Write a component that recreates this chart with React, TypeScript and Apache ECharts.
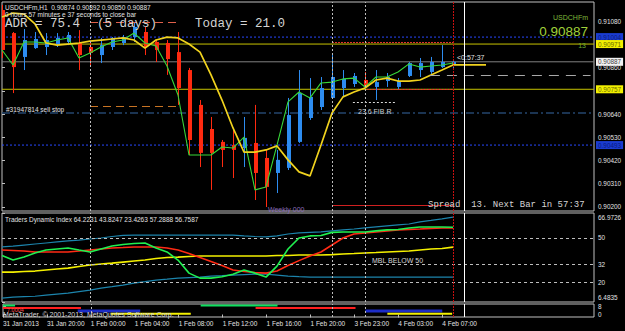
import React, { useEffect, useRef } from 'react';
import * as echarts from 'echarts';

// ---------- data ----------
const SYMBOL = 'USDCHFm';
const TIMEFRAME = 'H1';
const TIME_LABELS = ['31 Jan 2013', '31 Jan 20:00', '1 Feb 00:00', '1 Feb 04:00', '1 Feb 08:00', '1 Feb 12:00', '1 Feb 16:00', '1 Feb 20:00', '3 Feb 23:00', '4 Feb 03:00', '4 Feb 07:00'];
const LABEL_EVERY = 4;

const OPEN = [0.91132, 0.91023, 0.90910, 0.90952, 0.90957, 0.90971, 0.90981, 0.90976, 0.90957, 0.90919, 0.90957, 0.90976, 0.91004, 0.91028, 0.90981, 0.90976, 0.90933, 0.90848, 0.90683, 0.90569, 0.90508, 0.90493, 0.90479, 0.90503, 0.90432, 0.90361, 0.90385, 0.90508, 0.90621, 0.90673, 0.90716, 0.90763, 0.90782, 0.90801, 0.90768, 0.90796, 0.90768, 0.90820, 0.90848, 0.90839, 0.90862, 0.90874];
const HIGH = [0.91156, 0.91028, 0.91042, 0.91028, 0.91023, 0.91023, 0.91028, 0.91037, 0.90981, 0.91000, 0.91004, 0.91014, 0.91071, 0.91052, 0.90990, 0.90990, 0.91028, 0.90858, 0.90706, 0.90626, 0.90517, 0.90564, 0.90626, 0.90683, 0.90470, 0.90470, 0.90716, 0.90848, 0.90810, 0.90815, 0.90919, 0.90848, 0.90834, 0.90839, 0.90848, 0.90834, 0.90810, 0.90886, 0.90905, 0.90910, 0.90966, 0.90892];
const LOW = [0.90905, 0.90739, 0.90848, 0.90948, 0.90919, 0.90957, 0.90966, 0.90848, 0.90872, 0.90881, 0.90943, 0.90966, 0.90981, 0.90919, 0.90886, 0.90825, 0.90683, 0.90446, 0.90389, 0.90281, 0.90389, 0.90337, 0.90389, 0.90233, 0.90200, 0.90266, 0.90375, 0.90503, 0.90612, 0.90659, 0.90711, 0.90721, 0.90768, 0.90763, 0.90706, 0.90768, 0.90758, 0.90815, 0.90815, 0.90825, 0.90858, 0.90850];
const CLOSE = [0.90943, 0.90862, 0.90990, 0.90995, 0.90990, 0.91000, 0.91014, 0.90919, 0.90929, 0.90966, 0.91000, 0.91004, 0.91052, 0.90957, 0.90943, 0.90900, 0.90763, 0.90517, 0.90456, 0.90456, 0.90470, 0.90470, 0.90527, 0.90361, 0.90295, 0.90423, 0.90635, 0.90739, 0.90721, 0.90763, 0.90815, 0.90806, 0.90820, 0.90768, 0.90791, 0.90815, 0.90796, 0.90881, 0.90881, 0.90886, 0.90886, 0.90887];

const GREEN_MA = [0.90943, 0.90872, 0.90981, 0.90981, 0.90976, 0.90990, 0.91000, 0.90905, 0.90929, 0.90957, 0.90981, 0.90990, 0.91023, 0.90976, 0.90962, 0.90867, 0.90730, 0.90446, 0.90446, 0.90446, 0.90484, 0.90479, 0.90531, 0.90281, 0.90295, 0.90493, 0.90697, 0.90744, 0.90716, 0.90787, 0.90791, 0.90806, 0.90810, 0.90768, 0.90815, 0.90815, 0.90839, 0.90877, 0.90862, 0.90867, 0.90872, 0.90881];
const YELLOW_CURVE = [0.91099, 0.91118, 0.91113, 0.91066, 0.90976, 0.90966, 0.90971, 0.90976, 0.90985, 0.90990, 0.90995, 0.91000, 0.90990, 0.90952, 0.90990, 0.91004, 0.91000, 0.90971, 0.90933, 0.90825, 0.90706, 0.90574, 0.90460, 0.90460, 0.90470, 0.90489, 0.90423, 0.90366, 0.90347, 0.90493, 0.90645, 0.90721, 0.90744, 0.90763, 0.90801, 0.90810, 0.90796, 0.90796, 0.90801, 0.90825, 0.90848, 0.90872, 0.90872, 0.90872, 0.90872];

const PRICE_MIN = 0.90181;
const PRICE_MAX = 0.91170;
const PRICE_TICKS = [0.902, 0.9031, 0.9042, 0.9053, 0.9064, 0.9075, 0.9086, 0.9097, 0.9108];

const BLUE_DOT_LEVELS = [0.91004, 0.90493];
const YELLOW_LEVELS = [0.90971, 0.90757];
const SELL_STOP_LEVEL = 0.90645;
const ORANGE_ORDER = [8, 16, 0.90678];
const SALMON_ORDER = [8, 16, 0.91075];
const DAILY_RED = [[30, 41, 0.90981], [33, 41, 0.90757]];
const WEEKLY_RED = [30, 41, 0.90210];
const GREY_DASH = [38.9, 53.5, 0.90825];
const FIB_LINE = [31.9, 35.9, 0.90697];

const TDI_MIN = 6.4835;
const TDI_MAX = 66.9726;
const TDI_TICKS = [6.4835, 20, 32, 50, 66.9726];
const TDI_LEVELS = [20, 32, 50];
const TDI_UPPER = [43.9, 44.5, 45.2, 45.9, 46.6, 47.3, 48.0, 48.6, 49.3, 50.0, 51.0, 51.7, 52.0, 52.0, 52.0, 52.0, 52.0, 52.0, 52.0, 52.0, 52.0, 52.0, 51.4, 51.0, 50.7, 51.4, 52.7, 53.4, 53.8, 54.1, 54.8, 55.5, 56.1, 56.8, 57.5, 58.2, 58.9, 59.5, 60.9, 61.9, 63.0, 64.2];
const TDI_LOWER = [9.1, 9.8, 10.1, 10.4, 11.1, 11.8, 12.5, 13.5, 14.5, 15.9, 16.9, 18.0, 19.3, 20.3, 21.4, 22.0, 22.7, 23.1, 23.4, 24.1, 24.4, 24.8, 25.1, 25.4, 25.4, 24.8, 24.1, 23.7, 23.4, 23.4, 23.4, 23.4, 23.4, 23.4, 23.4, 23.4, 23.4, 23.4, 23.4, 23.4, 23.4, 23.4];
const TDI_MBL = [26.8, 26.8, 27.2, 27.5, 28.2, 28.9, 29.5, 30.6, 31.6, 32.3, 32.9, 33.6, 34.3, 35.0, 36.0, 36.7, 37.0, 37.4, 37.7, 37.7, 37.7, 37.7, 37.7, 37.7, 37.7, 38.1, 38.1, 38.4, 38.4, 38.4, 38.7, 39.1, 39.4, 39.8, 40.1, 40.5, 40.8, 41.1, 41.8, 42.5, 42.8, 43.8];
const TDI_RSI = [38.1, 35.0, 37.0, 39.8, 41.8, 42.5, 43.2, 41.8, 40.5, 42.5, 44.5, 45.6, 46.2, 46.6, 43.2, 40.5, 35.0, 26.1, 22.7, 22.7, 23.7, 25.4, 28.2, 26.1, 23.4, 30.9, 42.5, 50.0, 51.4, 51.7, 53.8, 54.1, 54.1, 54.1, 54.8, 55.5, 55.8, 56.8, 57.5, 57.5, 57.5, 57.3];
const TDI_SIGNAL = [41.8, 41.5, 41.1, 40.5, 40.5, 40.5, 40.5, 41.1, 41.8, 42.5, 43.2, 43.5, 43.9, 43.9, 43.9, 43.2, 41.8, 39.4, 36.7, 34.0, 31.3, 28.2, 27.2, 26.5, 26.1, 27.5, 31.3, 34.6, 37.7, 40.5, 45.2, 50.0, 52.7, 53.4, 54.1, 54.8, 55.5, 55.8, 56.1, 56.5, 56.8, 56.8];

const STRIP_MIN = -2.5;
const STRIP_MAX = 10.5;
const STRIP_TICKS = [0, 8];
const STRIP_GREEN = [[0, 1.1, 9], [18, 25, 9]];
const STRIP_RED = [[0, 7.1, 6.5], [23, 32.1, 6.5]];
const STRIP_BLUE = [[6.8, 12.5, 3.5], [33, 40, 3.5]];
const STRIP_YELLOW = [[9.8, 17.1, 0.7], [35, 40.9, 0.7]];

const SEPARATORS = [8, 30, 33];
const CURRENT_BAR = 41;
const SHIFT_BAR = 42;
const VISIBLE_SLOTS = 592 / 11;

// ---------- styles ----------
const SANS = '"Liberation Sans", Arial, sans-serif';
const MONO = '"Liberation Mono", "Courier New", monospace';
const TXT = '#e2e2e2';
const BULL = '#2d8cf0';
const BEAR = '#ff2a10';
const BORDER = '#c0c0c0';

function levelSeries(v: number, color: string, type: any, width: number, box?: { bg: string; fg: string }) {
  return {
    type: 'line', xAxisIndex: 0, yAxisIndex: 0, z: 1, symbol: 'none', silent: true, clip: false,
    data: [[0, v], [VISIBLE_SLOTS, v]],
    lineStyle: { color, type, width },
    endLabel: box
      ? {
          show: true, distance: 2, formatter: () => v.toFixed(5),
          fontSize: 6.4, fontFamily: SANS, color: box.fg, backgroundColor: box.bg, padding: [1, 2, 1, 2],
        }
      : { show: false },
  };
}

function segLine(seg: number[], lineStyle: any) {
  return [{ coord: [seg[0], seg[2]], lineStyle, label: { show: false } }, { coord: [seg[1], seg[2]] }];
}

function verticals() {
  return [
    ...SEPARATORS.map((x) => ({ xAxis: x, lineStyle: { color: '#bdbdbd', type: [2, 2], width: 1 } })),
    { xAxis: CURRENT_BAR, lineStyle: { color: '#c81010', type: [2, 1], width: 1 } },
    { xAxis: SHIFT_BAR, lineStyle: { color: '#ffffff', type: 'solid', width: 1 } },
  ];
}

function text(x: number, y: number, s: string, font: string, fill: string, align = 'left') {
  return {
    type: 'text', x, y, z: 50, silent: true,
    style: { text: s, font, fill, align, textAlign: align, verticalAlign: 'middle', textVerticalAlign: 'middle' },
  };
}

function stripSeries(data: number[][], color: string, width: number) {
  return {
    type: 'custom', xAxisIndex: 2, yAxisIndex: 2, z: 3, clip: true,
    data, encode: { x: [0, 1], y: 2 },
    renderItem: (_p: any, api: any) => {
      const a = api.coord([api.value(0), api.value(2)]);
      const b = api.coord([api.value(1), api.value(2)]);
      return { type: 'line', shape: { x1: a[0], y1: a[1], x2: b[0], y2: b[1] }, style: { stroke: color, lineWidth: width } };
    },
  };
}

function buildOption() {
  const last = CLOSE.length - 1;
  const header = `${SYMBOL},${TIMEFRAME}  ${OPEN[last].toFixed(5)} ${HIGH[last].toFixed(5)} ${LOW[last].toFixed(5)} ${CLOSE[last].toFixed(5)}`;
  const bid = CLOSE[last];
  const labelTicks = TIME_LABELS.map((_, i) => i * LABEL_EVERY);

  const xAxisBase = (g: number) => ({
    type: 'value', gridIndex: g, min: 0, max: VISIBLE_SLOTS,
    axisLine: { show: false }, splitLine: { show: false },
    axisTick: { show: g === 2, customValues: labelTicks, length: 3, lineStyle: { color: BORDER } },
    axisLabel: {
      show: g === 2, customValues: labelTicks, align: 'left', margin: 3,
      fontSize: 6.5, fontFamily: SANS, color: TXT,
      formatter: (v: number) => TIME_LABELS[Math.round(v / LABEL_EVERY)] ?? '',
    },
  });

  return {
    animation: false,
    backgroundColor: '#000000',
    grid: [
      { left: 2, top: 2, width: 592, height: 209, show: true, borderColor: BORDER, borderWidth: 1, backgroundColor: 'transparent' },
      { left: 2, top: 213, width: 592, height: 89, show: true, borderColor: BORDER, borderWidth: 1, backgroundColor: 'transparent' },
      { left: 2, top: 304, width: 592, height: 13, show: true, borderColor: BORDER, borderWidth: 1, backgroundColor: 'transparent' },
    ],
    xAxis: [xAxisBase(0), xAxisBase(1), xAxisBase(2)],
    yAxis: [
      {
        type: 'value', gridIndex: 0, position: 'right', min: PRICE_MIN, max: PRICE_MAX,
        splitLine: { show: false }, axisLine: { show: false },
        axisTick: { show: true, customValues: PRICE_TICKS, length: 3, lineStyle: { color: BORDER } },
        axisLabel: { customValues: PRICE_TICKS, formatter: (v: number) => v.toFixed(5), fontSize: 6.4, fontFamily: SANS, color: TXT, margin: 4 },
      },
      {
        type: 'value', gridIndex: 1, position: 'right', min: TDI_MIN, max: TDI_MAX,
        splitLine: { show: false }, axisLine: { show: false },
        axisTick: { show: true, customValues: TDI_TICKS, length: 3, lineStyle: { color: BORDER } },
        axisLabel: {
          customValues: TDI_TICKS, fontSize: 6.4, fontFamily: SANS, color: TXT, margin: 4,
          formatter: (v: number) => (v === TDI_MAX ? `{top|${v}}` : v === TDI_MIN ? `{bot|${v}}` : `${v}`),
          rich: {
            top: { padding: [8, 0, 0, 0], fontSize: 6.4, fontFamily: SANS, color: TXT },
            bot: { padding: [0, 0, 10, 0], fontSize: 6.4, fontFamily: SANS, color: TXT },
          },
        },
      },
      {
        type: 'value', gridIndex: 2, position: 'right', min: STRIP_MIN, max: STRIP_MAX,
        splitLine: { show: false }, axisLine: { show: false },
        axisTick: { show: true, customValues: STRIP_TICKS, length: 3, lineStyle: { color: BORDER } },
        axisLabel: { customValues: STRIP_TICKS, fontSize: 6.4, fontFamily: SANS, color: TXT, margin: 4 },
      },
    ],
    graphic: [
      text(5, 7, header, `6.5px ${SANS}`, TXT),
      text(5, 14.5, '0 hours 57 minutes e 37 seconds to close bar', `6.5px ${SANS}`, TXT),
      text(5, 23.5, 'ADR = 75.4', `12.5px ${MONO}`, '#d4d4d4'),
      text(97, 23.5, '(5 days)', `12.5px ${MONO}`, '#d4d4d4'),
      text(195, 23.5, 'Today = 21.0', `12.5px ${MONO}`, '#d4d4d4'),
      text(588, 17, SYMBOL, `7px ${SANS}`, '#7fb83a', 'right'),
      text(588, 31, bid.toFixed(5), `13.5px ${SANS}`, '#a0d23a', 'right'),
      text(586, 45, '13', `7px ${SANS}`, '#6cb030', 'right'),
      text(6, 109, '#31947814 sell stop', `6.5px ${SANS}`, TXT),
      text(358, 111, '23.6 FIB.R', `7px ${SANS}`, '#cfcfcf'),
      text(268, 209, 'Weekly 000', `7px ${SANS}`, '#8a6cb8'),
      text(457, 57.5, '<0:57:37', `7px ${SANS}`, TXT),
      text(428, 205, 'Spread  13. Next Bar in 57:37', `9px ${MONO}`, '#d4d4d4'),
      text(5, 219.5, 'Traders Dynamic Index 64.2231 43.8247 23.4263 57.2888 56.7587', `6.5px ${SANS}`, TXT),
      text(372, 260, 'MBL BELOW 50', `7px ${SANS}`, '#d4d4d4'),
      text(7, 309.5, '7.0004', `5.5px ${SANS}`, '#ff5050'),
      text(3, 314.5, 'MetaTrader, \u00a9 2001-2013, MetaQuotes Software Corp.', `7px ${SANS}`, '#d8d8d8'),
    ],
    series: [
      ...BLUE_DOT_LEVELS.map((v) => levelSeries(v, '#2848ff', [2, 2], 1, { bg: '#1a3cd0', fg: '#0a1a80' })),
      ...YELLOW_LEVELS.map((v) => levelSeries(v, '#c8c400', 'solid', 1, { bg: '#f2f000', fg: '#6a6a00' })),
      levelSeries(bid, '#808080', 'solid', 1, { bg: '#f2f2f2', fg: '#404040' }),
      levelSeries(SELL_STOP_LEVEL, '#24466e', [8, 3, 2, 3], 1.5),
      {
        type: 'line', xAxisIndex: 0, yAxisIndex: 0, data: [], z: 1, silent: true,
        markLine: {
          symbol: ['none', 'none'], silent: true, animation: false, label: { show: false },
          data: [
            segLine(ORANGE_ORDER, { color: '#c87424', type: [8, 5], width: 1 }),
            segLine(SALMON_ORDER, { color: '#e0604a', type: [8, 5], width: 1 }),
            ...DAILY_RED.map((s) => segLine(s, { color: '#e03030', type: [2, 1], width: 1 })),
            segLine(WEEKLY_RED, { color: '#d02020', type: 'solid', width: 1 }),
            segLine(GREY_DASH, { color: '#a8a8a8', type: [10, 7], width: 1 }),
            segLine(FIB_LINE, { color: '#d8d8d8', type: [2, 2], width: 1 }),
            ...verticals(),
          ],
        },
      },
      {
        type: 'custom', xAxisIndex: 0, yAxisIndex: 0, z: 3, clip: true,
        data: CLOSE.map((c, i) => [i, OPEN[i], c, LOW[i], HIGH[i]]),
        encode: { x: 0, y: [1, 2, 3, 4] },
        renderItem: (_p: any, api: any) => {
          const i = api.value(0), o = api.value(1), c = api.value(2), l = api.value(3), h = api.value(4);
          const pO = api.coord([i, o]), pC = api.coord([i, c]), pL = api.coord([i, l]), pH = api.coord([i, h]);
          const color = c >= o ? BULL : BEAR;
          const cx = Math.round(pO[0]);
          const top = Math.min(pO[1], pC[1]);
          const hgt = Math.max(1, Math.abs(pO[1] - pC[1]));
          return {
            type: 'group',
            children: [
              { type: 'line', shape: { x1: cx + 0.5, y1: pH[1], x2: cx + 0.5, y2: pL[1] }, style: { stroke: color, lineWidth: 1 } },
              { type: 'rect', shape: { x: cx - 1, y: top, width: 4, height: hgt }, style: { fill: color } },
            ],
          };
        },
      },
      {
        type: 'line', xAxisIndex: 0, yAxisIndex: 0, z: 4, symbol: 'none', silent: true,
        data: GREEN_MA.map((v, i) => [i, v]), lineStyle: { color: '#38d838', width: 1.1 },
      },
      {
        type: 'line', xAxisIndex: 0, yAxisIndex: 0, z: 4, symbol: 'none', silent: true,
        data: YELLOW_CURVE.map((v, i) => [i, v]), lineStyle: { color: '#f0d21e', width: 1.7 },
      },
      // TDI panel
      {
        type: 'line', xAxisIndex: 1, yAxisIndex: 1, z: 2, symbol: 'none', silent: true,
        data: TDI_UPPER.map((v, i) => [i, v]), lineStyle: { color: '#1c84ac', width: 1.2 },
        markLine: {
          symbol: ['none', 'none'], silent: true, animation: false, label: { show: false },
          data: [
            ...TDI_LEVELS.map((v) => [{ coord: [0, v], lineStyle: { color: '#bdbdbd', type: [3, 3], width: 1 } }, { coord: [VISIBLE_SLOTS, v] }]),
            ...verticals(),
          ],
        },
      },
      { type: 'line', xAxisIndex: 1, yAxisIndex: 1, z: 2, symbol: 'none', silent: true, data: TDI_LOWER.map((v, i) => [i, v]), lineStyle: { color: '#1c84ac', width: 1.2 } },
      { type: 'line', xAxisIndex: 1, yAxisIndex: 1, z: 3, symbol: 'none', silent: true, data: TDI_MBL.map((v, i) => [i, v]), lineStyle: { color: '#f4f000', width: 1.6 } },
      { type: 'line', xAxisIndex: 1, yAxisIndex: 1, z: 4, symbol: 'none', silent: true, data: TDI_SIGNAL.map((v, i) => [i, v]), lineStyle: { color: '#ff2a14', width: 1.6 } },
      { type: 'line', xAxisIndex: 1, yAxisIndex: 1, z: 5, symbol: 'none', silent: true, data: TDI_RSI.map((v, i) => [i, v]), lineStyle: { color: '#20f050', width: 1.6 } },
      // bottom strip
      {
        type: 'line', xAxisIndex: 2, yAxisIndex: 2, data: [], z: 1, silent: true,
        markLine: { symbol: ['none', 'none'], silent: true, animation: false, label: { show: false }, data: verticals() },
      },
      stripSeries(STRIP_GREEN, '#10e060', 2),
      stripSeries(STRIP_RED, '#ff2020', 2),
      stripSeries(STRIP_BLUE, '#1c2cc8', 3),
      stripSeries(STRIP_YELLOW, '#f4f000', 2),
    ],
  };
}

export default function App() {
  const ref = useRef<HTMLDivElement>(null);
  useEffect(() => {
    if (!ref.current) return;
    const chart = echarts.init(ref.current, undefined, { renderer: 'svg' });
    chart.setOption(buildOption() as any);
    return () => chart.dispose();
  }, []);
  return <div ref={ref} style={{ position: 'absolute', left: 0, top: 0, width: 625, height: 331, background: '#000' }} />;
}
